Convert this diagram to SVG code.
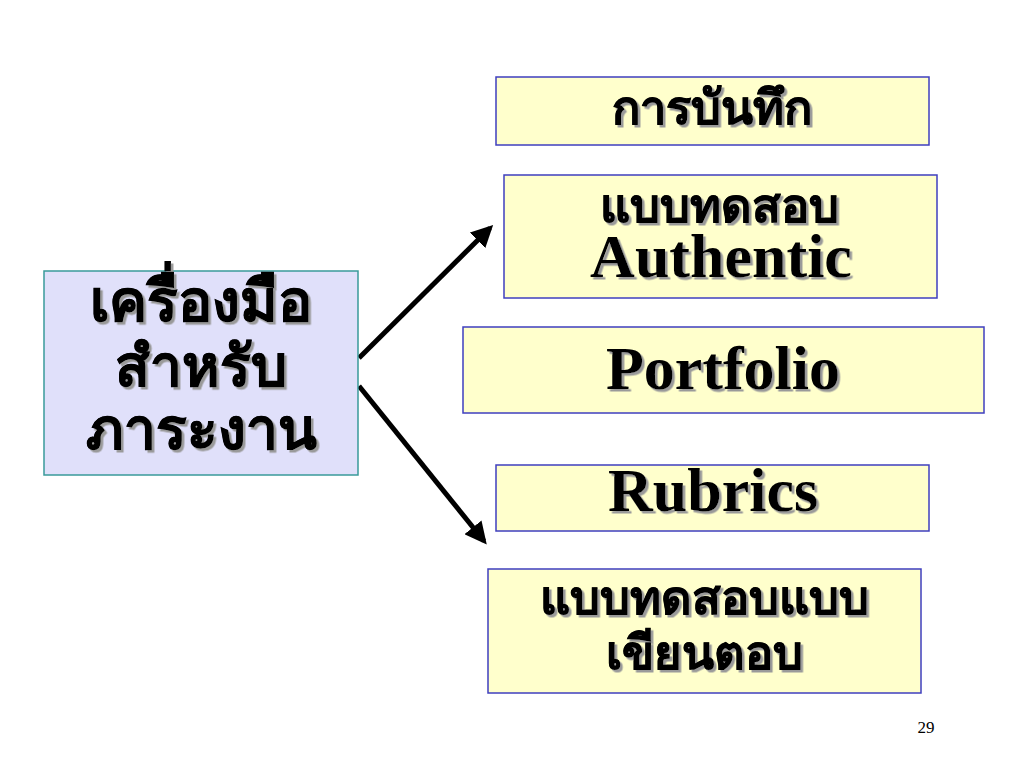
<svg xmlns="http://www.w3.org/2000/svg" width="1024" height="768" viewBox="0 0 1024 768">
<style>
.yb{fill:#FFFFCC;stroke:#3F3FBF;stroke-width:1.5}
.lb{fill:#E0E0FA;stroke:#3A9A9A;stroke-width:1.5}
.th{font-family:"Noto Sans","DejaVu Sans",sans-serif;font-weight:bold;fill:#000;text-anchor:middle;stroke:#000;stroke-width:0.6}
.en{font-family:"Liberation Serif",serif;font-weight:bold;fill:#000;text-anchor:middle;font-size:62px}
.sh{filter:url(#ds)}
.con{stroke:#000;stroke-width:5;fill:none;marker-end:url(#ah)}
</style>
<defs>
<filter id="ds" x="-10%" y="-20%" width="120%" height="140%">
<feDropShadow dx="2.5" dy="2.5" stdDeviation="0.6" flood-color="#9a9a9a" flood-opacity="1"/>
</filter>
<marker id="ah" viewBox="0 0 10 10" refX="8" refY="5" markerWidth="4.4" markerHeight="4.4" orient="auto" markerUnits="strokeWidth">
<path d="M0,0 L10,5 L0,10 z" fill="#000"/>
</marker>
</defs>
<rect width="1024" height="768" fill="#fff"/>
<g id="connectors">
<line class="con" x1="359" y1="358" x2="490" y2="228"/>
<line class="con" x1="359" y1="386" x2="484" y2="541"/>
</g>
<g id="n-tools">
<rect class="lb" x="44" y="271" width="314" height="204"/>
<text class="th sh" font-size="57" x="201" y="321">เครื่องมือ</text>
<text class="th sh" font-size="57" x="201" y="386">สำหรับ</text>
<text class="th sh" font-size="57" x="201" y="449">ภาระงาน</text>
</g>
<g id="n-record">
<rect class="yb" x="496" y="77" width="433" height="68"/>
<text class="th sh" font-size="47" x="712" y="124">การบันทึก</text>
</g>
<g id="n-authentic">
<rect class="yb" x="504" y="175" width="433" height="123"/>
<text class="th sh" font-size="47" x="719" y="222">แบบทดสอบ</text>
<text class="en sh" x="721" y="277">Authentic</text>
</g>
<g id="n-portfolio">
<rect class="yb" x="463" y="327" width="521" height="86"/>
<text class="en sh" x="723" y="389">Portfolio</text>
</g>
<g id="n-rubrics">
<rect class="yb" x="496" y="465" width="433" height="66"/>
<text class="en sh" x="713" y="511">Rubrics</text>
</g>
<g id="n-written">
<rect class="yb" x="488" y="569" width="433" height="124"/>
<text class="th sh" font-size="47" x="704" y="614">แบบทดสอบแบบ</text>
<text class="th sh" font-size="47" x="704" y="669">เขียนตอบ</text>
</g>
<text x="926" y="733" font-family="Liberation Serif,serif" font-size="17" text-anchor="middle" fill="#000">29</text>
</svg>
